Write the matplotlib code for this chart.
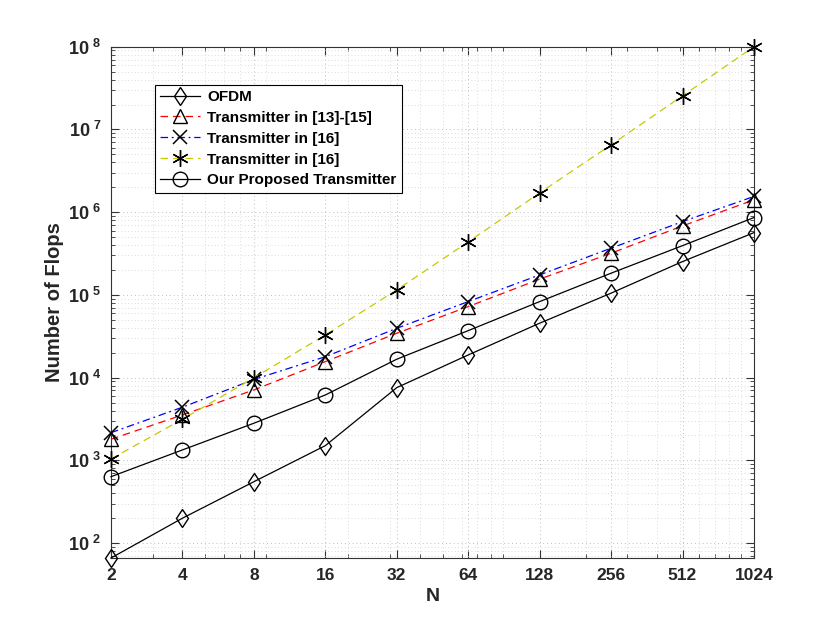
import numpy as np
import matplotlib
matplotlib.use("Agg")
import matplotlib.pyplot as plt
from matplotlib.ticker import LogLocator, FixedLocator, FuncFormatter, NullFormatter

plt.rcParams['font.family'] = ['Liberation Sans', 'DejaVu Sans']
plt.rcParams['mathtext.fontset'] = 'custom'
plt.rcParams['mathtext.rm'] = 'Liberation Sans:bold'
plt.rcParams['mathtext.bf'] = 'Liberation Sans:bold'

# valores
N = [2, 4, 8, 16, 32, 64, 128, 256, 512, 1024]
ofdm = [66, 200, 552, 1506, 7570, 18800, 45500, 105000, 253000, 566000]
tx_13_15 = [1800, 3540, 7100, 15600, 34400, 72200, 155000, 319000, 682000, 1410000]
tx_16a = [2160, 4390, 9500, 17900, 39500, 83000, 174500, 367000, 769000, 1550000]
tx_16b = [1040, 3140, 9950, 32800, 115000, 437000, 1710000, 6520000, 25500000, 100000000]
proposed = [635, 1337, 2810, 6170, 16700, 37000, 83000, 183000, 394000, 861000]
y_ticks = [1e2, 1e3, 1e4, 1e5, 1e6, 1e7, 1e8]

labels = ['OFDM', 'Transmitter in [13]-[15]', 'Transmitter in [16]',
          'Transmitter in [16]', 'Our Proposed Transmitter']

fig = plt.figure(figsize=(8.3, 6.27), dpi=100)
ax = fig.add_axes([0.1337, 0.110, 0.7747, 0.8155])

ms = 9.5
lw = 0.9
ax.plot(N, ofdm, '-', color='k', marker='d', ms=ms, mfc='none', mec='k', lw=lw,
        clip_on=False, zorder=3, label=labels[0])
ax.plot(N, tx_13_15, '--', color='r', marker='^', ms=ms, mfc='none', mec='k', lw=lw,
        dashes=(6, 4), clip_on=False, zorder=3, label=labels[1])
ax.plot(N, tx_16a, '-.', color='b', marker='x', ms=ms, mfc='none', mec='k', mew=1.1, lw=lw,
        dashes=(6, 3, 1.5, 3), clip_on=False, zorder=3, label=labels[2])
ax.plot(N, tx_16b, '--', color='#c8c800', marker=(6, 2, 0), ms=12, mec='k', mew=1.0, lw=lw,
        dashes=(6, 4), clip_on=False, zorder=3, label=labels[3])
ax.plot(N, proposed, '-', color='k', marker='o', ms=ms + 1, mfc='none', mec='k', lw=lw,
        clip_on=False, zorder=3, label=labels[4])

ax.set_xscale('log')
ax.set_yscale('log')
ax.set_xlim(2, 1024)
ax.set_ylim(ofdm[0], 1e8)

ax.xaxis.set_major_locator(FixedLocator(N))
ax.xaxis.set_major_formatter(FuncFormatter(lambda v, p: '%d' % v))
ax.xaxis.set_minor_locator(LogLocator(base=10, subs=np.arange(2, 10), numticks=20))
ax.xaxis.set_minor_formatter(NullFormatter())

ax.yaxis.set_major_locator(FixedLocator(y_ticks))
ax.yaxis.set_major_formatter(FuncFormatter(lambda v, p: r'$10^{\ %d}$' % round(np.log10(v))))
ax.yaxis.set_minor_locator(LogLocator(base=10, subs=np.arange(2, 10), numticks=20))
ax.yaxis.set_minor_formatter(NullFormatter())

ax.tick_params(which='both', direction='in', top=True, right=True, color='#333333')
ax.tick_params(which='major', length=6, labelsize=12.5, pad=7)
ax.tick_params(which='minor', length=3)
for t in ax.get_xticklabels():
    t.set_fontweight('bold')
    t.set_color('#262626')
for t in ax.get_yticklabels():
    t.set_color('#262626')
    t.set_fontsize(13)

ax.grid(True, which='major', linestyle=(0, (1, 3)), color='#bdbdbd', lw=0.7)
ax.grid(True, which='minor', linestyle=(0, (1, 3)), color='#d0d0d0', lw=0.6)
for s in ax.spines.values():
    s.set_color('#333333')
    s.set_linewidth(0.8)

ax.set_xlabel('N', fontsize=14, fontweight='bold', color='#262626', labelpad=4)
ax.set_ylabel('Number of Flops', fontsize=14.5, fontweight='bold', color='#262626', labelpad=3)

leg = ax.legend(loc='upper left', bbox_to_anchor=(0.068, 0.926),
                prop={'weight': 'bold', 'size': 11}, fancybox=False, edgecolor='k',
                framealpha=1, handlelength=2.6, borderpad=0.35, labelspacing=0.45,
                handletextpad=0.5, borderaxespad=0)
leg.get_frame().set_linewidth(0.8)

fig.savefig('out.png', dpi=100)
